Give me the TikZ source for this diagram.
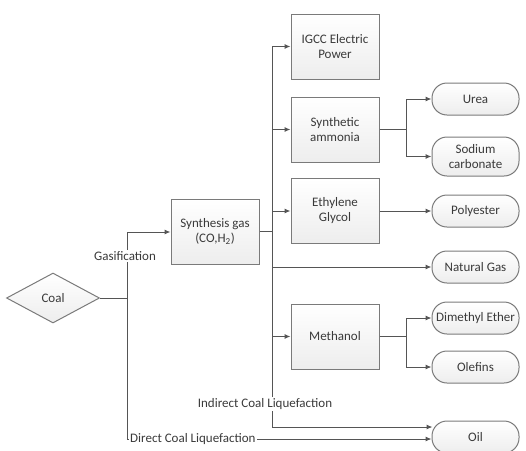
\documentclass[tikz,border=0pt]{standalone}
\usepackage{fontspec}
\setmainfont{Carlito}
\usetikzlibrary{shapes.geometric,arrows.meta}
\definecolor{txt}{HTML}{3A3A3A}
\definecolor{ln}{HTML}{555555}
\definecolor{bd}{HTML}{7A7A7A}
\tikzset{
  base/.style={draw=bd, line width=1pt, top color=white, bottom color=black!7, text=txt, align=center, inner sep=1pt, font=\fontsize{13}{15}\selectfont},
  procbox/.style={base, rectangle, minimum width=88pt, minimum height=65pt},
  termbox/.style={base, rectangle, rounded corners=15pt, minimum width=87pt, minimum height=32pt},
  coalbox/.style={base, diamond, minimum width=93pt, minimum height=50pt, inner sep=0pt},
  conn/.style={draw=ln, line width=1pt},
  arr/.style={conn, -{Latex[length=6pt,width=5pt]}},
  lab/.style={fill=white, text=txt, inner sep=1pt, font=\fontsize{13}{15}\selectfont}
}
\begin{document}
\begin{tikzpicture}[x=1pt,y=-1pt]
\useasboundingbox (0,0) rectangle (526,450);
% nodes
\node[coalbox] (coal) at (53,298) {Coal};
\node[procbox] (syn) at (215,231.5) {Synthesis gas\\(CO,H\textsubscript{2})};
\node[procbox] (igcc) at (335,46.5) {IGCC Electric\\Power};
\node[procbox] (amm) at (335,129.5) {Synthetic\\ammonia};
\node[procbox] (eg) at (335,211) {Ethylene\\Glycol};
\node[procbox] (meth) at (335,336.5) {Methanol};
\node[termbox] (urea) at (475.5,99) {Urea};
\node[termbox, minimum height=39pt] (soda) at (475.5,156.5) {Sodium\\carbonate};
\node[termbox] (poly) at (475.5,211) {Polyester};
\node[termbox] (ng) at (475.5,267) {Natural Gas};
\node[termbox] (dme) at (475.5,318) {Dimethyl Ether};
\node[termbox] (olef) at (475.5,367) {Olefins};
\node[termbox] (oil) at (475.5,437) {Oil};
% junction coordinates
\coordinate (jc) at (127,298);
\coordinate (jtop) at (127,232);
\coordinate (jbot) at (127,439);
\coordinate (btop) at (272,46.5);
\coordinate (bsyn) at (272,231.5);
\coordinate (bbot) at (272,427);
\coordinate (ja) at (406,129.5);
\coordinate (jm) at (406,336.5);
% coal side
\draw[conn] (coal.east) -- (jc);
\draw[conn] (jtop) -- (jbot);
\draw[arr] (jtop) -- (syn.west |- jtop);
\node[lab] (gas) at (125,256) {Gasification};
\draw[arr] (jbot) -- (oil.west |- jbot);
\node[lab, anchor=west] (dcl) at (129,439) {Direct Coal Liquefaction};
% bus
\draw[conn] (syn.east) -- (bsyn);
\draw[conn] (btop) -- (bbot);
\draw[arr] (btop) -- (igcc.west);
\draw[arr] (amm.west -| btop) -- (amm.west);
\draw[arr] (eg.west -| btop) -- (eg.west);
\draw[arr] (meth.west -| btop) -- (meth.west);
\draw[arr] (ng.west -| btop) -- (ng.west);
\draw[arr] (bbot) -- ([xshift=1pt]oil.west |- bbot);
\node[lab] (icl) at (265,404) {Indirect Coal Liquefaction};
% ammonia branch
\draw[conn] (amm.east) -- (ja);
\draw[conn] (ja |- urea.west) -- (ja |- soda.west);
\draw[arr] (ja |- urea.west) -- (urea.west);
\draw[arr] (ja |- soda.west) -- (soda.west);
% glycol
\draw[arr] (eg.east) -- (poly.west);
% methanol branch
\draw[conn] (meth.east) -- (jm);
\draw[conn] (jm |- dme.west) -- (jm |- olef.west);
\draw[arr] (jm |- dme.west) -- (dme.west);
\draw[arr] (jm |- olef.west) -- (olef.west);
\end{tikzpicture}
\end{document}
